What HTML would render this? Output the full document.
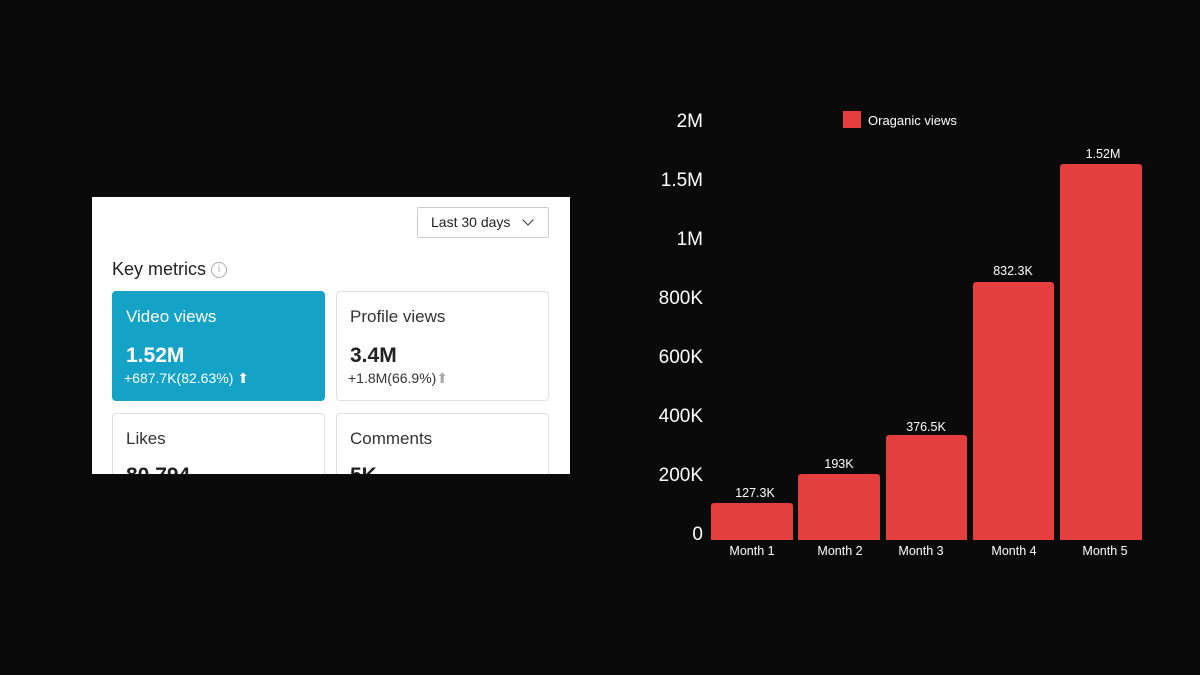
<!DOCTYPE html>
<html><head><style>
body{margin:0;width:1200px;height:675px;background:#0a0a0a;position:relative;overflow:hidden;font-family:"Liberation Sans",sans-serif}
.a{position:absolute}
.panel{left:92px;top:197px;width:478px;height:277px;background:#fff;overflow:hidden}
.card{position:absolute;width:213px;height:110px;border:1px solid #e0e0e0;border-radius:4px;box-sizing:border-box}
.t{font-size:17px;color:#333;position:absolute;left:13px;top:15px}
.v{font-size:21px;font-weight:bold;color:#222;position:absolute;left:13px;top:52px}
.d{font-size:14px;color:#333;position:absolute;left:11px;top:78px}
.yl{position:absolute;right:497px;color:#fff;font-size:19px;transform:translateY(-50%)}
.bar{position:absolute;background:#e53e3e;border-radius:3px 3px 0 0;bottom:135px}
.vl{position:absolute;color:#fff;font-size:12.5px;width:90px;text-align:center;transform:translateY(-50%)}
.ml{position:absolute;color:#fff;font-size:12.5px;width:90px;text-align:center;top:544px}
</style></head><body>
<div class="a panel">
 <div class="a" style="left:325px;top:10px;width:132px;height:31px;border:1px solid #ccc;border-radius:2px;box-sizing:border-box;font-size:14px;color:#222;line-height:29px;padding-left:13px">Last 30 days <span style="display:inline-block;width:7px;height:7px;border-right:1.5px solid #333;border-bottom:1.5px solid #333;transform:rotate(45deg);margin-left:10px;position:relative;top:-3px"></span></div>
 <div class="a" style="left:20px;top:62px;font-size:18px;color:#222">Key metrics <span style="display:inline-block;width:14px;height:14px;border:1.5px solid #aaa;border-radius:50%;font-size:10px;color:#aaa;text-align:center;line-height:14px;vertical-align:middle">i</span></div>
 <div class="card" style="left:20px;top:94px;background:#14a3c7;border-color:#14a3c7"><div class="t" style="color:#fff">Video views</div><div class="v" style="color:#fff">1.52M</div><div class="d" style="color:#fff">+687.7K(82.63%) ⬆</div></div>
 <div class="card" style="left:244px;top:94px"><div class="t">Profile views</div><div class="v">3.4M</div><div class="d">+1.8M(66.9%)<span style="color:#aaa">⬆</span></div></div>
 <div class="card" style="left:20px;top:216px"><div class="t">Likes</div><div class="v" style="top:50px">80,794</div></div>
 <div class="card" style="left:244px;top:216px"><div class="t">Comments</div><div class="v" style="top:50px">5K</div></div>
</div>
<div class="yl" style="top:122px">2M</div>
<div class="yl" style="top:181px">1.5M</div>
<div class="yl" style="top:240px">1M</div>
<div class="yl" style="top:299px">800K</div>
<div class="yl" style="top:358px">600K</div>
<div class="yl" style="top:417px">400K</div>
<div class="yl" style="top:476px">200K</div>
<div class="yl" style="top:535px">0</div>
<div class="a" style="left:843px;top:111px;width:18px;height:17px;background:#e53e3e"></div>
<div class="a" style="left:868px;top:113px;color:#fff;font-size:13px">Oraganic views</div>
<div class="bar" style="left:711px;width:82px;height:37px"></div>
<div class="bar" style="left:798px;width:82px;height:66px"></div>
<div class="bar" style="left:886px;width:81px;height:105px"></div>
<div class="bar" style="left:973px;width:81px;height:258px"></div>
<div class="bar" style="left:1060px;width:82px;height:376px"></div>
<div class="vl" style="left:710px;top:493px">127.3K</div>
<div class="vl" style="left:794px;top:464px">193K</div>
<div class="vl" style="left:881px;top:427px">376.5K</div>
<div class="vl" style="left:968px;top:271px">832.3K</div>
<div class="vl" style="left:1058px;top:154px">1.52M</div>
<div class="ml" style="left:707px">Month 1</div>
<div class="ml" style="left:795px">Month 2</div>
<div class="ml" style="left:876px">Month 3</div>
<div class="ml" style="left:969px">Month 4</div>
<div class="ml" style="left:1060px">Month 5</div>
</body></html>
